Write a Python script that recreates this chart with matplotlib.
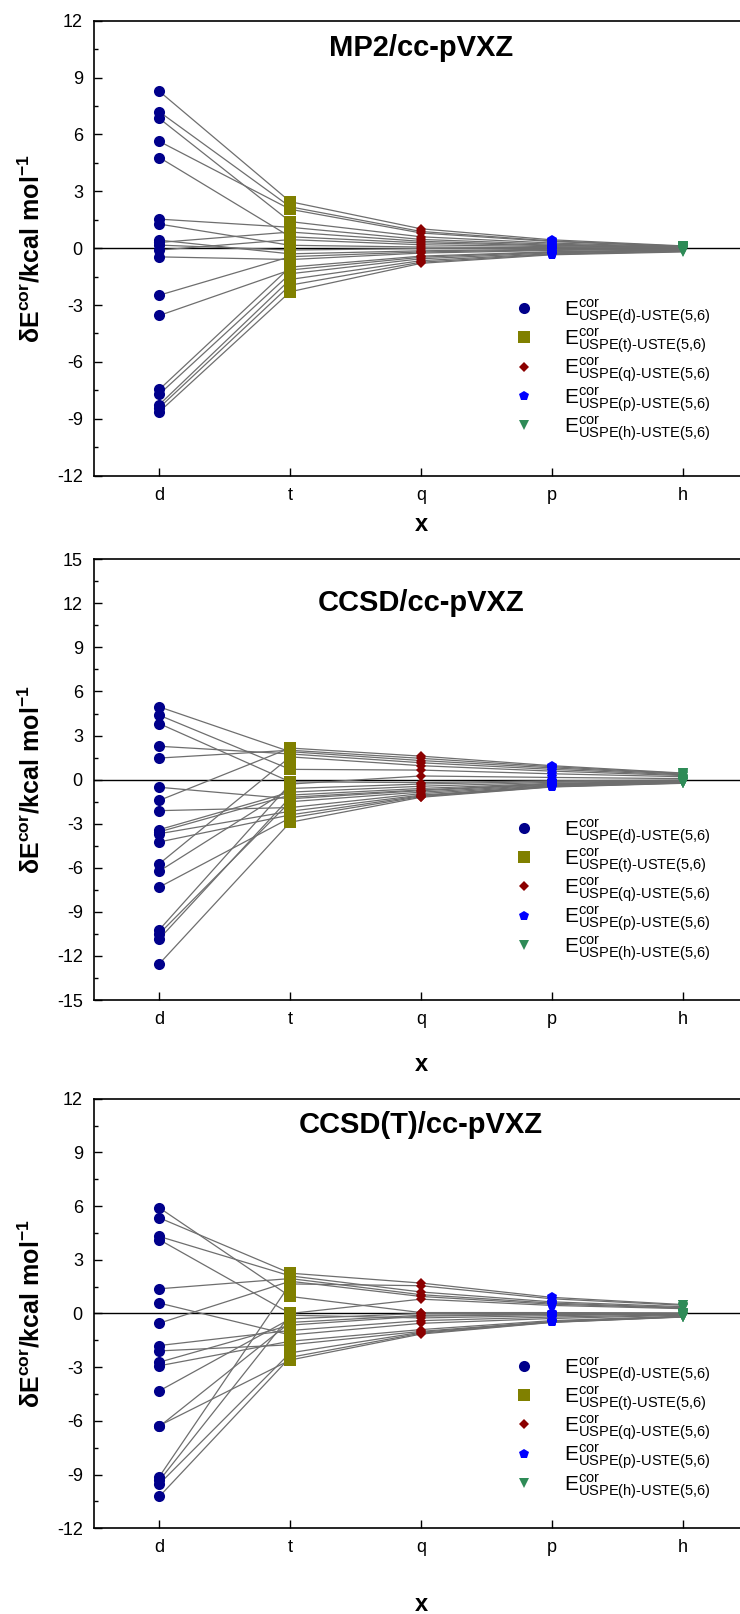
import matplotlib
matplotlib.use("Agg")
import matplotlib.pyplot as plt
from matplotlib.lines import Line2D
from matplotlib.ticker import MultipleLocator

plt.rcParams["font.family"] = ["Liberation Sans", "DejaVu Sans"]
plt.rcParams["mathtext.fontset"] = "custom"
plt.rcParams["mathtext.rm"] = "Liberation Sans"
plt.rcParams["mathtext.it"] = "Liberation Sans:italic"
plt.rcParams["mathtext.bf"] = "Liberation Sans:bold"
plt.rcParams["axes.unicode_minus"] = False

basis = ["d", "t", "q", "p", "h"]

# MP2 deviations (kcal/mol) for each molecule, per cardinal number
mp2_d = [8.27, 7.19, 6.84, 5.63, 4.78, 1.53, 1.27, 0.42, 0.30, 0.16, -0.10, -0.46, -2.48, -3.55, -7.45, -7.70, -8.25, -8.41, -8.63]
mp2_t = [2.45, 2.18, 1.40, 2.05, 0.60, 1.10, 0.15, -0.30, 0.85, -0.10, 0.45, -0.60, -0.45, -1.15, -1.00, -1.35, -1.65, -1.95, -2.30]
mp2_q = [1.02, 0.88, 0.60, 0.80, 0.28, 0.46, 0.06, -0.14, 0.36, -0.02, 0.18, -0.26, -0.20, -0.48, -0.42, -0.56, -0.66, -0.74, -0.80]
mp2_p = [0.44, 0.38, 0.27, 0.35, 0.13, 0.21, 0.03, -0.06, 0.16, -0.01, 0.08, -0.12, -0.09, -0.21, -0.19, -0.25, -0.29, -0.32, -0.35]
mp2_h = [0.12, 0.10, 0.07, 0.09, 0.03, 0.05, 0.00, -0.03, 0.04, -0.01, 0.02, -0.05, -0.04, -0.09, -0.08, -0.11, -0.14, -0.17, -0.20]

# CCSD
ccsd_d = [4.95, 4.38, 3.81, 2.27, 1.47, -0.52, -1.41, -2.11, -3.40, -3.55, -3.68, -4.24, -5.72, -6.22, -7.31, -10.21, -10.48, -10.83, -12.53]
ccsd_t = [1.90, 0.70, -0.15, 1.75, 2.00, -1.30, 2.15, -1.90, -0.85, -1.05, -2.15, -2.40, 1.55, -0.60, -2.60, -0.30, -1.50, -1.20, -2.90]
ccsd_q = [1.30, 0.65, -0.20, 1.15, 1.45, -0.75, 1.60, -0.95, -0.45, -0.60, -1.05, -1.10, 0.95, -0.30, -1.15, 0.25, -0.85, -0.70, -1.20]
ccsd_p = [0.80, 0.40, -0.08, 0.70, 0.88, -0.32, 0.95, -0.40, -0.18, -0.25, -0.44, -0.46, 0.58, -0.12, -0.48, 0.15, -0.36, -0.29, -0.50]
ccsd_h = [0.38, 0.20, -0.03, 0.33, 0.42, -0.14, 0.45, -0.18, -0.08, -0.11, -0.20, -0.21, 0.28, -0.05, -0.23, 0.07, -0.16, -0.13, -0.25]

# CCSD(T)
ccsdt_d = [5.90, 5.34, 4.30, 4.12, 1.38, 0.58, -0.54, -1.79, -2.09, -2.72, -2.92, -4.32, -6.26, -6.31, -9.11, -9.33, -9.52, -10.22]
ccsdt_t = [0.95, 2.25, 2.10, 0.00, 1.95, -1.20, 1.80, -0.95, -1.75, -0.65, -1.55, -0.30, -2.60, -0.50, 1.65, -0.10, -2.20, -2.45]
ccsdt_q = [0.05, 1.70, 1.20, 0.80, 1.05, -0.55, 0.95, -0.40, -1.00, -0.15, -0.90, 0.00, -1.15, -0.10, 1.55, -0.25, -1.05, -1.10]
ccsdt_p = [0.05, 0.90, 0.65, 0.45, 0.58, -0.28, 0.52, -0.20, -0.45, -0.06, -0.40, 0.00, -0.50, -0.04, 0.82, -0.12, -0.47, -0.49]
ccsdt_h = [0.03, 0.50, 0.38, 0.27, 0.33, -0.10, 0.30, -0.07, -0.17, -0.02, -0.15, 0.00, -0.20, -0.01, 0.46, -0.04, -0.18, -0.19]

titles = ["MP2/cc-pVXZ", "CCSD/cc-pVXZ", "CCSD(T)/cc-pVXZ"]
panels = [
    [mp2_d, mp2_t, mp2_q, mp2_p, mp2_h],
    [ccsd_d, ccsd_t, ccsd_q, ccsd_p, ccsd_h],
    [ccsdt_d, ccsdt_t, ccsdt_q, ccsdt_p, ccsdt_h],
]
ylims = [12, 15, 12]

# marker, colour, size for each basis level
styles = [
    ("o", "#00008b", 8),
    ("s", "#808000", 8),
    ("D", "#8b0000", 5),
    ("p", "#0000ff", 7.5),
    ("v", "#2e8b57", 7.5),
]

# axes rectangles and a few per-panel placements
rects = [
    [0.127, 0.7053, 0.8838, 0.2819],
    [0.127, 0.3804, 0.8838, 0.2731],
    [0.127, 0.0531, 0.8838, 0.2662],
]
title_y = [0.94, 0.90, 0.939]
xlabel_y = [-0.083, -0.121, -0.151]
legend_y = [0.232, 0.25, 0.234]

fig = plt.figure(figsize=(7.4, 16.14), dpi=100)
xs = list(range(1, 6))

for k in range(3):
    ax = fig.add_axes(rects[k])
    cols = panels[k]
    n = len(cols[0])
    for i in range(n):
        ax.plot(xs, [c[i] for c in cols], color="#6e6e6e", lw=0.9, zorder=2)
    ax.axhline(0, color="black", lw=1.0, zorder=1.5)
    for j, (m, col, ms) in enumerate(styles):
        ax.plot([xs[j]] * n, cols[j], ls="none", marker=m, color=col,
                markersize=ms, markeredgewidth=0, zorder=3)

    lim = ylims[k]
    ax.set_xlim(0.5, 5.5)
    ax.set_ylim(-lim, lim)
    ax.set_xticks(xs)
    ax.set_xticklabels(basis)
    ax.yaxis.set_major_locator(MultipleLocator(3))
    ax.yaxis.set_minor_locator(MultipleLocator(1.5))
    ax.tick_params(which="both", direction="in", labelsize=13, pad=8,
                   top=False, right=False)
    ax.tick_params(which="major", length=5.5, width=1)
    ax.tick_params(which="minor", length=2.7, width=1)
    for sp in ax.spines.values():
        sp.set_linewidth(1.2)

    ax.text(0.5, title_y[k], titles[k], transform=ax.transAxes, ha="center",
            va="center", fontsize=21, fontweight="bold")
    ax.set_ylabel(r"δE$^{\mathbf{cor}}$/kcal mol$^{\mathbf{-1}}$",
                  fontsize=18, fontweight="bold")
    ax.yaxis.set_label_coords(-0.075, 0.5)
    ax.set_xlabel("x", fontsize=17, fontweight="bold")
    ax.xaxis.set_label_coords(0.5, xlabel_y[k])

    handles = [Line2D([], [], ls="none", marker=m, color=col, markersize=ms,
                      markeredgewidth=0) for m, col, ms in styles]
    labels = [r"$\mathregular{E^{cor}_{USPE(%s)\text{-}USTE(5{,}6)}}$" % b
              for b in basis]
    ax.legend(handles, labels, loc="center left",
              bbox_to_anchor=(0.6416, legend_y[k]), frameon=False,
              fontsize=15, handlelength=1.0, handletextpad=1.4,
              labelspacing=0.02, borderpad=0, borderaxespad=0)

fig.savefig("out.png", dpi=100)
